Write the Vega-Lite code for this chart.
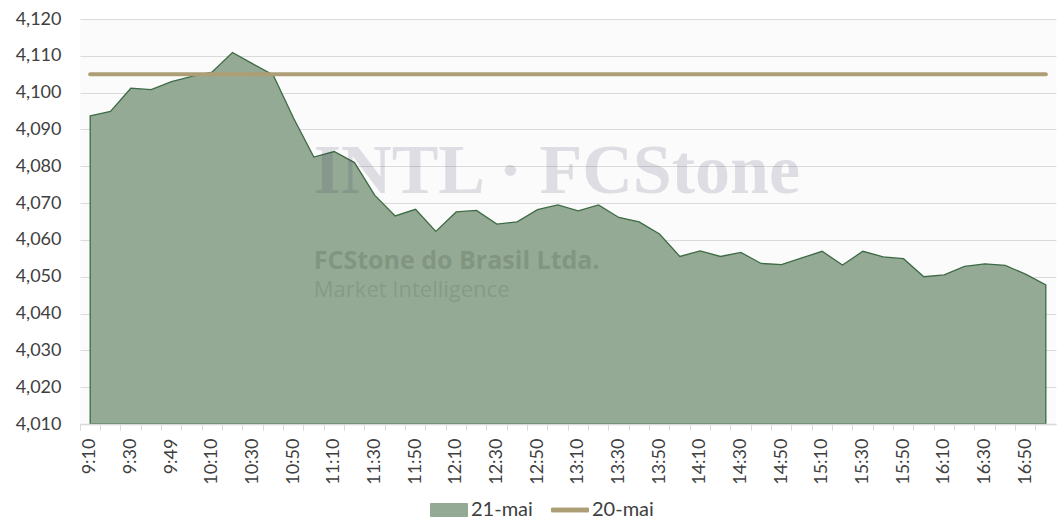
{
  "$schema": "https://vega.github.io/schema/vega-lite/v6.json",
  "width": 976,
  "height": 405,
  "autosize": {"type": "none"},
  "padding": {"left": 80, "top": 19, "right": 5, "bottom": 95},
  "background": "white",
  "config": {
    "view": {"fill": "#FBFBFB", "stroke": null},
    "font": "Lato",
    "numberFormat": ",",
    "axisY": {"values": [4010, 4020, 4030, 4040, 4050, 4060, 4070, 4080, 4090, 4100, 4110, 4120], "labelExpr": "format(datum.value, ',')", "labelFontSize": 18, "labelColor": "#404040", "ticks": false, "domain": false, "grid": true, "gridColor": "#000000", "gridOpacity": 0.13, "gridWidth": 1, "labelPadding": 19, "title": null, "zindex": 1}
  },
  "datasets": {
    "main": [
      {"t": "9:10", "v21": 4093.7, "v20": 4105},
      {"t": "9:20", "v21": 4094.9, "v20": 4105},
      {"t": "9:30", "v21": 4101.2, "v20": 4105},
      {"t": "9:40", "v21": 4100.8, "v20": 4105},
      {"t": "9:49", "v21": 4103.0, "v20": 4105},
      {"t": "10:00", "v21": 4104.4, "v20": 4105},
      {"t": "10:10", "v21": 4105.6, "v20": 4105},
      {"t": "10:20", "v21": 4110.9, "v20": 4105},
      {"t": "10:30", "v21": 4107.8, "v20": 4105},
      {"t": "10:40", "v21": 4104.8, "v20": 4105},
      {"t": "10:50", "v21": 4093.1, "v20": 4105},
      {"t": "11:00", "v21": 4082.5, "v20": 4105},
      {"t": "11:10", "v21": 4084.0, "v20": 4105},
      {"t": "11:20", "v21": 4081.0, "v20": 4105},
      {"t": "11:30", "v21": 4072.1, "v20": 4105},
      {"t": "11:40", "v21": 4066.5, "v20": 4105},
      {"t": "11:50", "v21": 4068.3, "v20": 4105},
      {"t": "12:00", "v21": 4062.3, "v20": 4105},
      {"t": "12:10", "v21": 4067.6, "v20": 4105},
      {"t": "12:20", "v21": 4068.0, "v20": 4105},
      {"t": "12:30", "v21": 4064.3, "v20": 4105},
      {"t": "12:40", "v21": 4064.9, "v20": 4105},
      {"t": "12:50", "v21": 4068.2, "v20": 4105},
      {"t": "13:00", "v21": 4069.5, "v20": 4105},
      {"t": "13:10", "v21": 4067.9, "v20": 4105},
      {"t": "13:20", "v21": 4069.5, "v20": 4105},
      {"t": "13:30", "v21": 4066.1, "v20": 4105},
      {"t": "13:40", "v21": 4064.9, "v20": 4105},
      {"t": "13:50", "v21": 4061.6, "v20": 4105},
      {"t": "14:00", "v21": 4055.5, "v20": 4105},
      {"t": "14:10", "v21": 4057.0, "v20": 4105},
      {"t": "14:20", "v21": 4055.5, "v20": 4105},
      {"t": "14:30", "v21": 4056.6, "v20": 4105},
      {"t": "14:40", "v21": 4053.6, "v20": 4105},
      {"t": "14:50", "v21": 4053.3, "v20": 4105},
      {"t": "15:00", "v21": 4055.1, "v20": 4105},
      {"t": "15:10", "v21": 4056.9, "v20": 4105},
      {"t": "15:20", "v21": 4053.2, "v20": 4105},
      {"t": "15:30", "v21": 4056.9, "v20": 4105},
      {"t": "15:40", "v21": 4055.4, "v20": 4105},
      {"t": "15:50", "v21": 4054.9, "v20": 4105},
      {"t": "16:00", "v21": 4050.0, "v20": 4105},
      {"t": "16:10", "v21": 4050.5, "v20": 4105},
      {"t": "16:20", "v21": 4052.8, "v20": 4105},
      {"t": "16:30", "v21": 4053.5, "v20": 4105},
      {"t": "16:40", "v21": 4053.1, "v20": 4105},
      {"t": "16:50", "v21": 4050.7, "v20": 4105},
      {"t": "17:00", "v21": 4047.8, "v20": 4105}
    ]
  },
  "layer": [
    {
      "data": {"name": "main"},
      "mark": {"type": "area", "stroke": "#3D6B45", "strokeWidth": 1.3},
      "encoding": {
        "x": {
          "field": "t", "type": "ordinal", "sort": null,
          "scale": {"type": "band", "paddingInner": 0, "paddingOuter": 0, "domain": ["9:10","9:20","9:30","9:40","9:49","10:00","10:10","10:20","10:30","10:40","10:50","11:00","11:10","11:20","11:30","11:40","11:50","12:00","12:10","12:20","12:30","12:40","12:50","13:00","13:10","13:20","13:30","13:40","13:50","14:00","14:10","14:20","14:30","14:40","14:50","15:00","15:10","15:20","15:30","15:40","15:50","16:00","16:10","16:20","16:30","16:40","16:50","17:00"]},
          "axis": {"orient": "bottom", "labelAngle": -90, "labelFontSize": 18, "labelColor": "#404040", "ticks": false, "grid": false, "domain": true, "domainColor": "#D9D9D9", "domainWidth": 1.5, "labelPadding": 14, "labelExpr": "indexof(['00','20','40'], slice(datum.value, -2)) >= 0 ? '' : datum.value", "title": null, "zindex": 1}
        },
        "y": {"field": "v21", "type": "quantitative", "title": null, "scale": {"domain": [4010, 4120], "zero": false, "nice": false}},
        "y2": {"datum": 4010},
        "color": {"datum": "21-mai"}
      }
    },
    {
      "data": {"values": [{"t": "11:00", "wv": 4072.7, "txt": "INTL · FCStone"}]},
      "mark": {"type": "text", "align": "left", "baseline": "alphabetic", "font": "Liberation Serif", "fontWeight": "bold", "fontSize": 70, "color": "#3A3A60", "opacity": 0.15},
      "encoding": {
        "x": {"field": "t", "type": "ordinal", "sort": null, "axis": {"orient": "bottom", "bandPosition": 0, "labels": false, "domain": false, "grid": false, "ticks": true, "tickSize": 6, "tickColor": "#D9D9D9", "tickWidth": 1, "title": null}},
        "y": {"field": "wv", "type": "quantitative", "title": null, "scale": {"domain": [4010, 4120], "zero": false, "nice": false}},
        "text": {"field": "txt"}
      }
    },
    {
      "data": {"values": [{"t": "11:00", "wv": 4052.1, "txt": "FCStone do Brasil Ltda."}]},
      "mark": {"type": "text", "align": "left", "baseline": "alphabetic", "font": "Open Sans", "fontWeight": "bold", "fontSize": 25, "color": "#2E3A2E", "opacity": 0.18},
      "encoding": {
        "x": {"field": "t", "type": "ordinal", "sort": null, "axis": null},
        "y": {"field": "wv", "type": "quantitative", "title": null, "scale": {"domain": [4010, 4120], "zero": false, "nice": false}},
        "text": {"field": "txt"}
      }
    },
    {
      "data": {"values": [{"t": "11:00", "wv": 4044.5, "txt": "Market Intelligence"}]},
      "mark": {"type": "text", "align": "left", "baseline": "alphabetic", "font": "Open Sans", "fontSize": 22, "color": "#2E3A2E", "opacity": 0.13},
      "encoding": {
        "x": {"field": "t", "type": "ordinal", "sort": null, "axis": null},
        "y": {"field": "wv", "type": "quantitative", "title": null, "scale": {"domain": [4010, 4120], "zero": false, "nice": false}},
        "text": {"field": "txt"}
      }
    },
    {
      "data": {"name": "main"},
      "mark": {"type": "line", "strokeWidth": 4, "strokeCap": "round"},
      "encoding": {
        "x": {"field": "t", "type": "ordinal", "sort": null, "axis": null},
        "y": {"field": "v20", "type": "quantitative", "title": null, "scale": {"domain": [4010, 4120], "zero": false, "nice": false}},
        "color": {
          "datum": "20-mai",
          "scale": {"domain": ["21-mai", "20-mai"], "range": ["#94AA94", "#AD9E76"]},
          "legend": {
            "orient": "none", "legendX": 359, "legendY": 481, "direction": "horizontal", "title": null,
            "labelFontSize": 20, "labelColor": "#404040",
            "symbolSize": 169, "labelOffset": 12, "columnPadding": 16,
            "encode": {
              "symbols": {
                "update": {
                  "shape": {"signal": "datum.value === '21-mai' ? 'M-2.85,-1H2.85V1H-2.85Z' : 'M-2.85,-0.3H2.85V0.3H-2.85Z'"},
                  "stroke": {"signal": "datum.value === '21-mai' ? '#3D6B45' : '#AD9E76'"},
                  "strokeWidth": {"value": 1},
                  "opacity": {"value": 1}
                }
              }
            }
          }
        }
      }
    }
  ],
  "resolve": {"axis": {"x": "independent"}}
}
